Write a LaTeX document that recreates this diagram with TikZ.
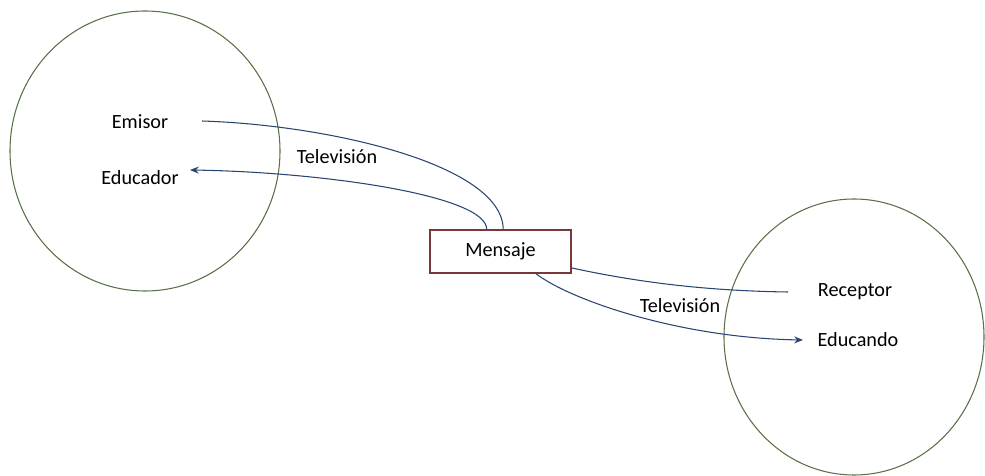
\documentclass[tikz,border=0pt]{standalone}
\usepackage{fontspec}
\setmainfont{Carlito}
\usepackage{tikz}
\usetikzlibrary{arrows.meta}
\definecolor{circgreen}{RGB}{88,112,70}
\definecolor{linkblue}{RGB}{40,68,112}
\definecolor{boxred}{RGB}{120,56,56}

\begin{document}
\begin{tikzpicture}[x=0.02cm,y=-0.02cm,font=\fontsize{11.5}{14}\selectfont]
\useasboundingbox (0,0) rectangle (985,476);
\draw[circgreen,line width=0.6pt] (145,151) ellipse (135 and 140);
\draw[circgreen,line width=0.6pt] (854,337) ellipse (130 and 138);
\node (emisor) at (140,122) {Emisor};
\node (educador) at (140,178) {Educador};
\node (receptor) at (855,292) {Receptor};
\node (educando) at (858,340) {Educando};
\node (mensaje) [draw=boxred,line width=0.6pt,minimum width=2.82cm,minimum height=0.86cm] at (500.5,251.5) {Mensaje};
\node (tv1) at (337,157) {Televisión};
\node (tv2) at (680,306) {Televisión};
\coordinate (e1) at (202,121);
\coordinate (e2) at (190,170);
\coordinate (r1) at (788,292);
\coordinate (r2) at (803,340);
\draw[linkblue,line width=0.6pt] (e1) .. controls (330,125) and (503,165) .. (mensaje.83);
\draw[linkblue,line width=0.6pt,-{Stealth[length=5pt,width=4pt]}] (mensaje.122) .. controls (487,195) and (320,172) .. (e2);
\draw[linkblue,line width=0.6pt] (mensaje.-13) .. controls (650,285) and (720,291) .. (r1);
\draw[linkblue,line width=0.6pt,-{Stealth[length=5pt,width=4pt]}] (mensaje.-32) .. controls (570,300) and (680,338) .. (r2);
\end{tikzpicture}
\end{document}
